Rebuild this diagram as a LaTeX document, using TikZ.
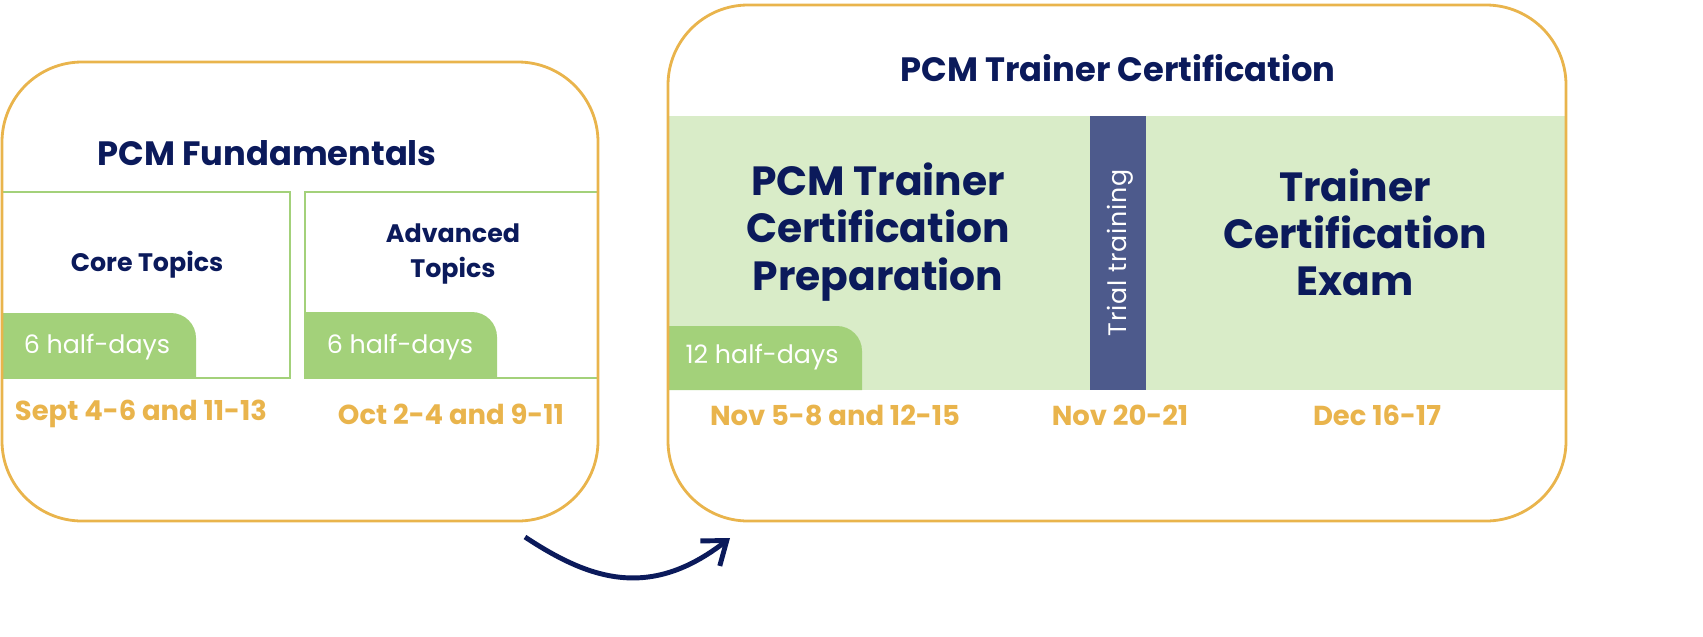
\documentclass[tikz,border=0pt]{standalone}
\usepackage{fontspec}
\setmainfont{Poppins}
\usetikzlibrary{arrows.meta}
\definecolor{navy}{HTML}{0B1A5B}
\definecolor{gold}{HTML}{E9B44C}
\definecolor{tabgreen}{HTML}{A3D17A}
\definecolor{palegreen}{HTML}{D9ECC8}
\definecolor{slate}{HTML}{4D5A8C}
\tikzset{
  outerbox/.style={draw=gold,line width=0.8pt,rounded corners=0.8cm},
  topicbox/.style={draw=tabgreen,line width=0.7pt},
  title/.style={text=navy,font=\bfseries\fontsize{9.6}{11}\selectfont},
  topic/.style={text=navy,font=\bfseries\fontsize{7.2}{10}\selectfont,align=center},
  bigtext/.style={text=navy,font=\bfseries\fontsize{11.6}{13.4}\selectfont,align=center},
  tabtext/.style={text=white,font=\fontsize{7.2}{9}\selectfont},
  datetext/.style={text=gold,font=\bfseries\fontsize{7.8}{9}\selectfont}
}
\begin{document}
\begin{tikzpicture}[x=0.01cm,y=-0.01cm]
\useasboundingbox (0,0) rectangle (1703,636);
% left block
\draw[topicbox] (2,192) rectangle (290,378);
\draw[topicbox] (305,192) rectangle (598,378);
\fill[tabgreen] (2,378) -- (2,313) -- (171,313) arc[start angle=90,end angle=0,radius=0.25cm] -- (196,378) -- cycle;
\fill[tabgreen] (305,378) -- (305,312) -- (472,312) arc[start angle=90,end angle=0,radius=0.25cm] -- (497,378) -- cycle;
\draw[outerbox] (2,62) rectangle (598,521);
\node[title] (fund) at (267,153) {PCM Fundamentals};
\node[topic] (core) at (147,265) {Core Topics};
\node[topic] (adv) at (453,254) {Advanced\\Topics};
\node[tabtext] (coretab) at (97,347) {6 half-days};
\node[tabtext] (advtab) at (400,347) {6 half-days};
\node[datetext] (coredate) at (141,414) {Sept 4-6 and 11-13};
\node[datetext] (advdate) at (451,414) {Oct 2-4 and 9-11};
% right block
\fill[palegreen] (668,116) rectangle (1566,390);
\fill[slate] (1090,116) rectangle (1146,390);
\fill[tabgreen] (668,390) -- (668,326) -- (837,326) arc[start angle=90,end angle=0,radius=0.25cm] -- (862,390) -- cycle;
\draw[outerbox] (668,5) rectangle (1566,521);
\node[title] (cert) at (1118,68) {PCM Trainer Certification};
\node[bigtext] (prep) at (878,232) {PCM Trainer\\Certification\\Preparation};
\node[bigtext] (exam) at (1355,232) {Trainer\\Certification\\Exam};
\node[tabtext,rotate=90] (trial) at (1120,253) {\addfontfeature{LetterSpace=3}Trial training};
\node[tabtext] (preptab) at (762,357) {12 half-days};
\node[datetext] (prepdate) at (835,415) {Nov 5-8 and 12-15};
\node[datetext] (trialdate) at (1120,415) {Nov 20-21};
\node[datetext] (examdate) at (1377,415) {Dec 16-17};
% arrow between blocks
\coordinate (arrS) at (525,537);
\coordinate (arrE) at (730,538);
\draw[navy,line width=1.4pt,-{Straight Barb[length=6pt,width=9pt]}] (arrS) .. controls (590,580) and (650,600) .. (arrE);
\end{tikzpicture}
\end{document}
